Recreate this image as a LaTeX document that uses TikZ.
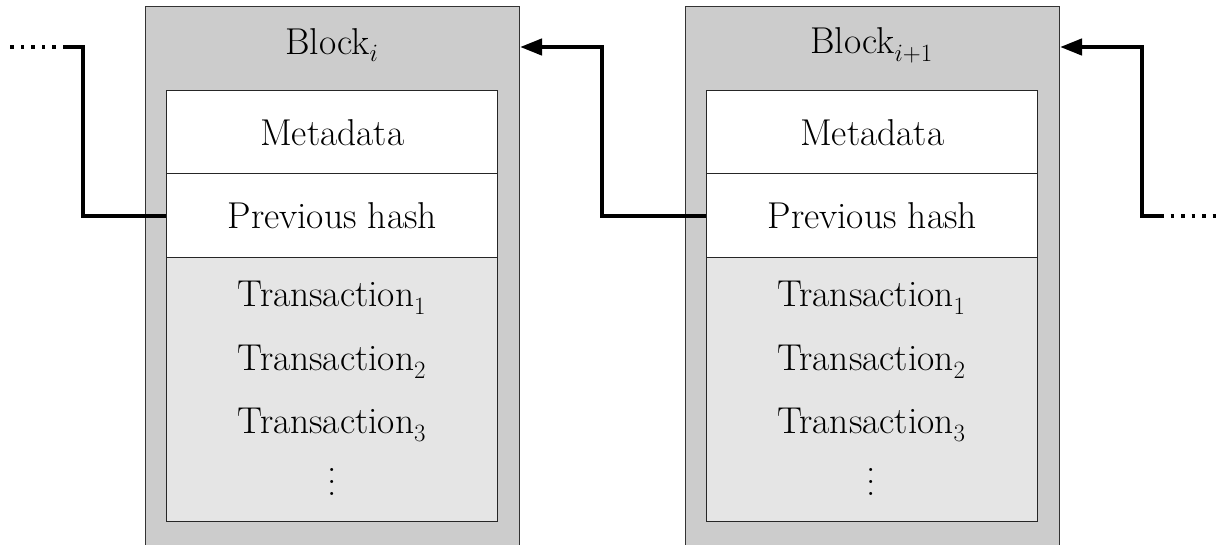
\documentclass[tikz,border=0pt]{standalone}
\usetikzlibrary{arrows.meta}
% vertical ellipsis spaced for the large text size
\newcommand{\tallvdots}{\vbox{\baselineskip=11.8pt \lineskiplimit=0pt \hbox{.}\hbox{.}\hbox{.}}}
\begin{document}
\begin{tikzpicture}[x=1pt,y=-1pt,
  every node/.style={font=\fontsize{37.4}{44}\selectfont, inner sep=0pt},
  blockbox/.style={draw=black!80, line width=1pt, fill=black!20, anchor=north west, minimum width=374pt, minimum height=600pt},
  cell/.style={draw=black!85, line width=1.4pt, fill=white, anchor=north west, minimum width=331pt},
  txbox/.style={cell, fill=black!10},
  link/.style={line width=4.3pt},
  tail/.style={line width=4.3pt, dash pattern=on 3.5pt off 7pt},
  tip/.style={-{Triangle[length=22pt,width=16pt]}}
]
\clip (0,0) rectangle (1219,544);

% Block i
\node[blockbox] (b1) at (145,6) {};
\node (t1) at (332,45) {Block$_i$};
\node[cell, minimum height=83pt] (m1) at (166,90) {};
\node at (m1.center) {Metadata};
\node[cell, minimum height=84pt] (p1) at (166,173) {};
\node at (p1.center) {Previous hash};
\node[txbox, minimum height=264pt] (x1) at (166,257) {};
\node (x1a) at (332,298) {Transaction$_1$};
\node (x1b) at (332,362) {Transaction$_2$};
\node (x1c) at (332,425) {Transaction$_3$};
\node (x1d) at (332,482) {\tallvdots};

% Block i+1
\node[blockbox] (b2) at (685,6) {};
\node (t2) at (871.5,45) {Block$_{i+1}$};
\node[cell, minimum height=83pt] (m2) at (706,90) {};
\node at (m2.center) {Metadata};
\node[cell, minimum height=84pt] (p2) at (706,173) {};
\node at (p2.center) {Previous hash};
\node[txbox, minimum height=264pt] (x2) at (706,257) {};
\node (x2a) at (871.5,298) {Transaction$_1$};
\node (x2b) at (871.5,362) {Transaction$_2$};
\node (x2c) at (871.5,425) {Transaction$_3$};
\node (x2d) at (871.5,482) {\tallvdots};

% hash pointers
\coordinate (in1) at ([yshift=-41pt]b1.north east);
\coordinate (in2) at ([yshift=-41pt]b2.north east);
\coordinate (l1) at (66,47);
\coordinate (l0) at (10,47);
\coordinate (r1) at (1160,216);
\coordinate (r0) at (1216,216);

\draw[link] (p1.west) -| (83,47) -- (l1);
\draw[tail] (l1) -- (l0);

\draw[link, tip] (p2.west) -| (602,47) -- (in1);

\draw[link, tip] (r1) -| (1142,47) -- (in2);
\draw[tail] (r1) -- (r0);
\end{tikzpicture}
\end{document}
